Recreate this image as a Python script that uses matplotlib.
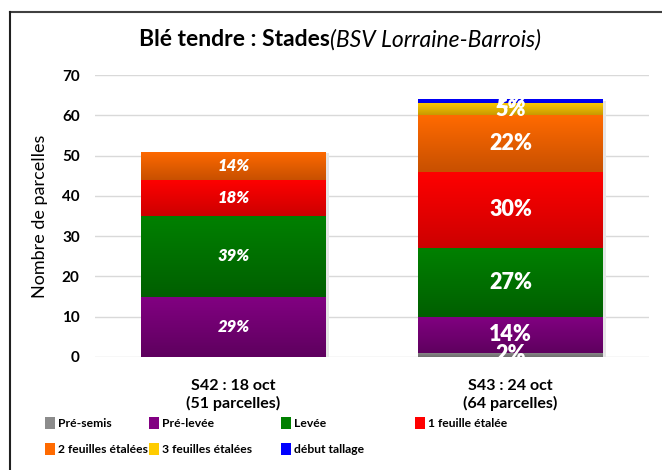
import matplotlib.pyplot as plt
import matplotlib.colors as mcolors
from matplotlib.patches import Patch
from matplotlib.lines import Line2D
import numpy as np

plt.rcParams['font.family'] = ['Lato', 'DejaVu Sans']

# data
categories = ["S42 : 18 oct\n(51 parcelles)", "S43 : 24 oct\n(64 parcelles)"]
stages = ["Pré-semis", "Pré-levée", "Levée", "1 feuille étalée",
          "2 feuilles étalées", "3 feuilles étalées", "début tallage"]
counts = {
    "Pré-semis":          [0, 1],
    "Pré-levée":          [15, 9],
    "Levée":              [20, 17],
    "1 feuille étalée":   [9, 19],
    "2 feuilles étalées": [7, 14],
    "3 feuilles étalées": [0, 3],
    "début tallage":      [0, 1],
}
pct_labels = {
    "Pré-semis":          ["", "2%"],
    "Pré-levée":          ["29%", "14%"],
    "Levée":              ["39%", "27%"],
    "1 feuille étalée":   ["18%", "30%"],
    "2 feuilles étalées": ["14%", "22%"],
    "3 feuilles étalées": ["", "5%"],
    "début tallage":      ["", "2%"],
}
# (top colour, bottom colour) for the gradient fill
colors = {
    "Pré-semis":          ("#8c8c8c", "#6e6e6e"),
    "Pré-levée":          ("#820082", "#5e005e"),
    "Levée":              ("#008000", "#005f00"),
    "1 feuille étalée":   ("#ff0000", "#cc0000"),
    "2 feuilles étalées": ("#ff6a00", "#c85000"),
    "3 feuilles étalées": ("#ffcc00", "#c89a00"),
    "début tallage":      ("#0000ff", "#0000e0"),
}

fig = plt.figure(figsize=(6.62, 4.70), dpi=100)
ax = fig.add_axes([95/662, 1-357/470, 554/662, 282/470])

x = np.arange(len(categories))
width = 0.665
bottom = np.zeros(len(categories))

# light shadow behind the bars
totals = np.sum([counts[s] for s in stages], axis=0)
ax.bar(x + 0.012, totals, width, bottom=-0.4, color="#e6e6e6", zorder=1)

for s in stages:
    vals = np.array(counts[s], dtype=float)
    bars = ax.bar(x, vals, width, bottom=bottom, color=colors[s][0], zorder=2)
    cmap = mcolors.LinearSegmentedColormap.from_list(s, [colors[s][1], colors[s][0]])
    grad = np.linspace(0, 1, 100).reshape(-1, 1)
    for b in bars:
        if b.get_height() == 0:
            continue
        x0, y0 = b.get_x(), b.get_y()
        im = ax.imshow(grad, cmap=cmap, aspect="auto", origin="lower",
                       extent=[x0, x0 + b.get_width(), y0, y0 + b.get_height()], zorder=3)
        im.set_clip_path(b)
    for i, v in enumerate(vals):
        lab = pct_labels[s][i]
        if lab:
            if i == 0:
                ax.text(x[i], bottom[i] + v/2, lab, ha="center", va="center",
                        color="white", fontsize=12, fontweight="heavy", style="italic", zorder=5)
            else:
                ax.text(x[i], bottom[i] + v/2, lab, ha="center", va="center",
                        color="white", fontsize=15.5, fontweight="heavy", zorder=5)
    bottom += vals

ax.set_xlim(-0.5, 1.5)
ax.set_ylim(0, 70)
ax.set_yticks(range(0, 71, 10))
ax.yaxis.grid(True, color="#d9d9d9", linewidth=1)
ax.set_axisbelow(True)
for sp in ax.spines.values():
    sp.set_visible(False)
ax.tick_params(length=0, pad=11)
ax.tick_params(axis="x", pad=16)
ax.set_xticks(x)
ax.set_xticklabels(categories, fontsize=11.5, fontweight="bold", linespacing=1.2)
for t in ax.get_yticklabels():
    t.set_fontweight("bold")
    t.set_fontsize(11)
ax.set_ylabel("Nombre de parcelles", fontsize=13, labelpad=10)

# title with mixed styles
fig.text(330/662, 1-40/470, "Blé tendre : Stades", ha="right", va="center",
         fontsize=16.5, fontweight="bold")
fig.text(330/662, 1-40/470, "(BSV Lorraine-Barrois)", ha="left", va="center",
         fontsize=16.5, style="italic")

# legend: one small legend per column so the columns sit where the reference has them
legend_cols = [[0, 4], [1, 5], [2, 6], [3]]
col_x = [45, 149, 281, 415]
for cols, cx in zip(legend_cols, col_x):
    handles = [Patch(facecolor=colors[stages[i]][0], edgecolor="none") for i in cols]
    labels = [stages[i] for i in cols]
    fig.legend(handles, labels, loc="upper left",
               bbox_to_anchor=(cx/662, 1-417/470), frameon=False,
               borderaxespad=0, borderpad=0,
               handlelength=0.8, handleheight=1.2, handletextpad=0.25,
               labelspacing=1.1, prop={"weight": "bold", "size": 8.7})

# chart frame (top and left edges visible)
fig.add_artist(Line2D([10/662, 1], [1-12/470, 1-12/470], color="#404040", lw=1.5))
fig.add_artist(Line2D([10/662, 10/662], [0, 1-12/470], color="#202020", lw=1.5))

fig.savefig("out.png", dpi=100)
